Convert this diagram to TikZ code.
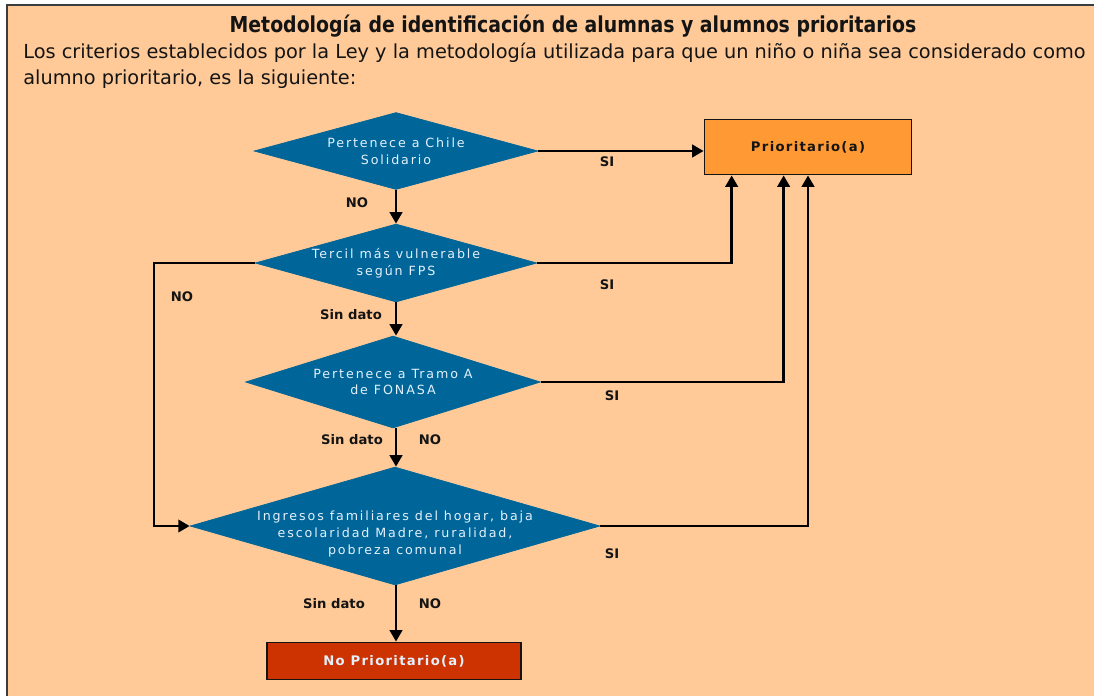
\documentclass[tikz,border=0pt]{standalone}
\usepackage{fontspec}
\usepackage{xcolor}
\usepackage{tikz}
\usetikzlibrary{shapes.geometric, arrows.meta, positioning}
\setmainfont{DejaVu Sans}
\newfontfamily\headfont{DejaVu Sans}[FakeStretch=0.86]
\newfontfamily\diafont{DejaVu Sans}[LetterSpace=15]
\newfontfamily\lblfont{DejaVu Sans}[LetterSpace=10]
\definecolor{mypeach}{RGB}{255,202,152}
\definecolor{myframe}{RGB}{60,60,60}
\definecolor{myblue}{RGB}{0,102,153}
\definecolor{myorange}{RGB}{255,153,51}
\definecolor{myrust}{RGB}{204,51,0}
\definecolor{mylight}{RGB}{228,240,252}
\definecolor{mydark}{RGB}{20,20,20}
\tikzset{
  decision/.style={diamond, draw=myblue, fill=myblue, inner sep=0pt},
  dtext/.style={align=center, text=mylight, inner sep=0pt,
    font=\diafont\fontsize{7.2}{9.6}\selectfont},
  block/.style={rectangle, draw=mydark, fill=myorange, line width=1pt,
    minimum width=4.14cm, minimum height=1.1cm,
    font=\lblfont\bfseries\fontsize{7.5}{9}\selectfont, text=mydark},
  redblock/.style={rectangle, draw=mydark, fill=myrust, line width=1pt,
    minimum width=5.08cm, minimum height=0.74cm,
    font=\lblfont\bfseries\fontsize{7.5}{9}\selectfont, text=mylight},
  lbl/.style={font=\normalfont\bfseries\fontsize{7.5}{9}\selectfont, text=mydark,
    inner sep=0pt},
  arrow/.style={-{Triangle[length=6.5pt,width=7pt]}, line width=1.6pt, color=black},
}

\begin{document}
\begin{tikzpicture}[x=0.02cm, y=-0.02cm]
  \useasboundingbox (0,0) rectangle (1094,696);
  % page background and frame
  \fill[mypeach] (7,5) rectangle (1094,696);
  \draw[myframe, line width=1.2pt] (1094,5) -- (7,5) -- (7,696);

  % heading
  \node[font=\headfont\bfseries\fontsize{12.5}{15}\selectfont, text=mydark] (title) at (573,26)
    {Metodología de identificación de alumnas y alumnos prioritarios};
  \node[anchor=base west, inner sep=0pt, font=\fontsize{11}{13}\selectfont, text=mydark] (intro1) at (23,59)
    {Los criterios establecidos por la Ley y la metodología utilizada para que un niño o niña sea considerado como};
  \node[anchor=base west, inner sep=0pt, font=\fontsize{11}{13}\selectfont, text=mydark] (intro2) at (23,85)
    {alumno prioritario, es la siguiente:};

  % decisions
  \node[decision, minimum width=5.68cm, minimum height=1.54cm] (chile) at (396,151) {};
  \node[dtext] (chiletxt) at (chile) {Pertenece a Chile\\Solidario};
  \node[decision, minimum width=5.64cm, minimum height=1.56cm] (tercil) at (396,263) {};
  \node[dtext] (terciltxt) at (tercil) {Tercil más vulnerable\\según FPS};
  \node[decision, minimum width=5.9cm, minimum height=1.84cm] (fonasa) at (393,382) {};
  \node[dtext] (fonasatxt) at (fonasa) {Pertenece a Tramo A\\de FONASA};
  \node[decision, minimum width=8.2cm, minimum height=2.36cm] (ingresos) at (395,526) {};
  \node[dtext] (ingresostxt) at (395,534)
    {Ingresos familiares del hogar, baja\\escolaridad Madre, ruralidad,\\pobreza comunal};

  % results
  \node[block] (prio) at (808,147) {Prioritario(a)};
  \node[redblock] (noprio) at (394,661) {No Prioritario(a)};

  % connectors
  \draw[arrow] (chile.east) -- (chile.east -| prio.west);
  \draw[arrow] (chile.south) -- (tercil.north);
  \draw[arrow] (tercil.east) -| ([xshift=0.56cm]prio.south west);
  \draw[arrow] (tercil.south) -- (tercil.south |- fonasa.north);
  \draw[arrow] (fonasa.east) -| ([xshift=1.6cm]prio.south west);
  \draw[arrow] (tercil.south |- fonasa.south) -- (tercil.south |- ingresos.north);
  \draw[arrow] (ingresos.east) -| (prio.south);
  \coordinate (loop) at (154,263);
  \draw[arrow] (tercil.west) -- (loop) |- (ingresos.west);
  \draw[arrow] (tercil.south |- ingresos.south) -- (tercil.south |- noprio.north);

  % labels
  \node[lbl] (si1) at (607,162) {SI};
  \node[lbl] (no1) at (357,203) {NO};
  \node[lbl] (si2) at (607,285) {SI};
  \node[lbl] (no2) at (182,297) {NO};
  \node[lbl] (sd2) at (351,315) {Sin dato};
  \node[lbl] (si3) at (612,396) {SI};
  \node[lbl] (sd3) at (352,440) {Sin dato};
  \node[lbl] (no3) at (430,440) {NO};
  \node[lbl] (si4) at (612,554) {SI};
  \node[lbl] (sd4) at (334,604) {Sin dato};
  \node[lbl] (no4) at (430,604) {NO};
\end{tikzpicture}
\end{document}
